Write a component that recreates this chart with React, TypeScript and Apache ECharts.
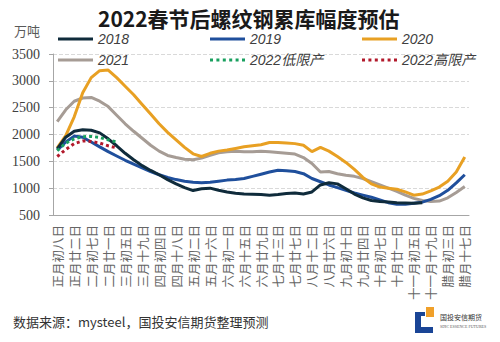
import React, { useEffect, useRef } from "react";
import * as echarts from "echarts";

const categories = [
  "正月初八日", "正月十五日", "正月廿二日", "正月廿九日", "二月初七日", "二月十四日", "二月廿一日",
  "二月廿八日", "三月初五日", "三月十二日", "三月十九日", "三月廿六日", "四月初四日", "四月十一日",
  "四月十八日", "四月廿五日", "五月初二日", "五月初九日", "五月十六日", "五月廿三日", "六月初一日",
  "六月初八日", "六月十五日", "六月廿二日", "六月廿九日", "七月初六日", "七月十三日", "七月二十日",
  "七月廿七日", "八月初五日", "八月十二日", "八月十九日", "八月廿六日", "九月初三日", "九月初十日",
  "九月十七日", "九月廿四日", "十月初一日", "十月初七日", "十月十四日", "十月廿一日", "十月廿八日",
  "十一月初五日", "十一月十二日", "十一月十九日", "十一月廿六日", "腊月初三日", "腊月初十日", "腊月十七日",
];

const s2018 = [
  1730, 1950, 2060, 2090, 2080, 2030, 1920, 1790, 1650, 1530, 1420, 1330, 1250, 1160, 1080,
  1010, 955, 990, 1000, 960, 930, 905, 890, 885, 880, 870, 880, 900, 910, 890, 930, 1060, 1100,
  1080, 990, 890, 820, 770, 750, 740, 730, 725, 720, 730,
];
const s2019 = [
  1710, 1860, 1970, 1950, 1860, 1770, 1680, 1600, 1520, 1450, 1380, 1310, 1250, 1200, 1160,
  1130, 1110, 1100, 1110, 1130, 1150, 1160, 1180, 1220, 1260, 1300, 1335, 1325, 1310, 1270,
  1180, 1120, 1060, 1010, 960, 910, 870, 830, 780, 730, 700, 700, 720, 740, 790, 860, 960, 1100, 1250,
];
const s2020 = [
  1750, 1980, 2330, 2780, 3060, 3190, 3200, 3060, 2900, 2740, 2560, 2380, 2200, 2040, 1900,
  1760, 1640, 1590, 1650, 1690, 1710, 1740, 1770, 1790, 1810, 1850, 1850, 1840, 1830, 1800,
  1680, 1760, 1690, 1590, 1480, 1350, 1200, 1080, 1020, 1000, 980, 930, 870, 890, 950, 1020, 1130, 1300, 1580,
];
const s2021 = [
  2240, 2460, 2620, 2680, 2690, 2620, 2520, 2360, 2200, 2060, 1930, 1800, 1690, 1610, 1570,
  1540, 1530, 1560, 1610, 1660, 1680, 1690, 1680, 1680, 1690, 1680, 1665, 1650, 1635, 1570,
  1460, 1300, 1310, 1270, 1240, 1220, 1180, 1120, 1060, 1000, 940, 870, 810, 770, 750, 760, 820, 920, 1030,
];
const s2022Low = [1700, 1840, 1920, 1960, 1965, 1945, 1900, 1860];
const s2022High = [1590, 1720, 1830, 1880, 1870, 1840, 1790, 1750];

const yTicks = { min: 500, max: 3500, interval: 500 };

const CJK = '"Noto Sans CJK SC", "Noto Sans", sans-serif';

const DOTS_ICON =
  "path://M0,0h3v3h-3z M6.4,0h3v3h-3z M12.8,0h3v3h-3z M19.2,0h3v3h-3z M25.6,0h3v3h-3z M32,0h3v3h-3z";

export default function App() {
  const ref = useRef<HTMLDivElement>(null);
  useEffect(() => {
    if (!ref.current) return;
    const chart = echarts.init(ref.current, undefined, { renderer: "svg" });
    const legendText = {
      fontSize: 14,
      fontStyle: "italic",
      color: "#404040",
      fontFamily: '"Liberation Sans", ' + CJK,
    };
    const mkLegend = (name: string, left: number, top: number, dotted: boolean) => ({
      data: [{ name, icon: dotted ? DOTS_ICON : "rect" }],
      left,
      top,
      padding: 0,
      itemWidth: 35,
      itemHeight: 3,
      itemGap: 0,
      textStyle: legendText,
    });
    const lineSeries = (name: string, data: number[], color: string, type: string = "solid", z = 2) => ({
      name,
      type: "line",
      data,
      symbol: "none",
      z,
      lineStyle: { color, width: 3, type },
      itemStyle: { color },
    });
    const option: any = {
      animation: false,
      backgroundColor: "#ffffff",
      title: {
        text: "2022春节后螺纹钢累库幅度预估",
        left: 98,
        top: 7,
        padding: 0,
        textStyle: { fontSize: 21, fontWeight: "bold", color: "#1a1a1a", fontFamily: CJK },
      },
      legend: [
        mkLegend("2018", 58, 32, false),
        mkLegend("2019", 210, 32, false),
        mkLegend("2020", 362, 32, false),
        mkLegend("2021", 58, 53, false),
        mkLegend("2022低限产", 210, 53, true),
        mkLegend("2022高限产", 362, 53, true),
      ],
      grid: { left: 53, right: 31, top: 54, bottom: 127, containLabel: false },
      xAxis: {
        type: "category",
        data: categories,
        boundaryGap: true,
        axisLine: { lineStyle: { color: "#a6a6a6", width: 1 } },
        axisTick: { show: false },
        axisLabel: {
          interval: 1,
          rotate: 90,
          margin: 10,
          fontSize: 12.5,
          color: "#666666",
          fontFamily: CJK,
        },
      },
      yAxis: {
        type: "value",
        min: yTicks.min,
        max: yTicks.max,
        interval: yTicks.interval,
        axisLine: { show: true, lineStyle: { color: "#a6a6a6" } },
        axisTick: { show: true, length: 4, lineStyle: { color: "#a6a6a6" } },
        splitLine: { lineStyle: { type: "dashed", color: "#d9d9d9" } },
        axisLabel: {
          margin: 13,
          fontSize: 14,
          color: "#404040",
          fontFamily: '"Liberation Serif", serif',
          formatter: (v: number) => String(v),
        },
      },
      series: [
        lineSeries("2021", s2021, "#a69c95", "solid", 2),
        lineSeries("2020", s2020, "#e8a023", "solid", 3),
        lineSeries("2019", s2019, "#1f4f9c", "solid", 4),
        lineSeries("2018", s2018, "#0f2b3b", "solid", 5),
        lineSeries("2022低限产", s2022Low, "#19a05f", "dotted", 6),
        lineSeries("2022高限产", s2022High, "#b2192b", "dotted", 6),
      ],
      graphic: [
        {
          type: "text",
          left: 14,
          top: 24,
          style: { text: "万吨", fontSize: 13, fill: "#595959", fontFamily: CJK },
        },
        {
          type: "text",
          left: 13,
          top: 315,
          style: {
            text: "数据来源：mysteel，国投安信期货整理预测",
            fontSize: 13,
            fill: "#333333",
            fontFamily: CJK,
          },
        },
        { type: "rect", shape: { x: 415, y: 312, width: 6, height: 21 }, style: { fill: "#1a4596" } },
        { type: "rect", shape: { x: 415, y: 327, width: 18, height: 6 }, style: { fill: "#1a4596" } },
        { type: "rect", shape: { x: 421, y: 312, width: 4, height: 4 }, style: { fill: "#1a4596" } },
        { type: "rect", shape: { x: 426, y: 307, width: 8, height: 10 }, style: { fill: "#f0a02a" } },
        {
          type: "text",
          left: 440,
          top: 313,
          style: { text: "国投安信期货", fontSize: 7, fill: "#333333", fontFamily: CJK },
        },
        {
          type: "text",
          left: 440,
          top: 324,
          style: { text: "SDIC ESSENCE FUTURES", fontSize: 4, fill: "#555555", fontFamily: '"Liberation Serif", serif' },
        },
      ],
    };
    chart.setOption(option);
    return () => chart.dispose();
  }, []);
  return <div ref={ref} style={{ width: 500, height: 342, position: "absolute", left: 0, top: 0 }} />;
}
